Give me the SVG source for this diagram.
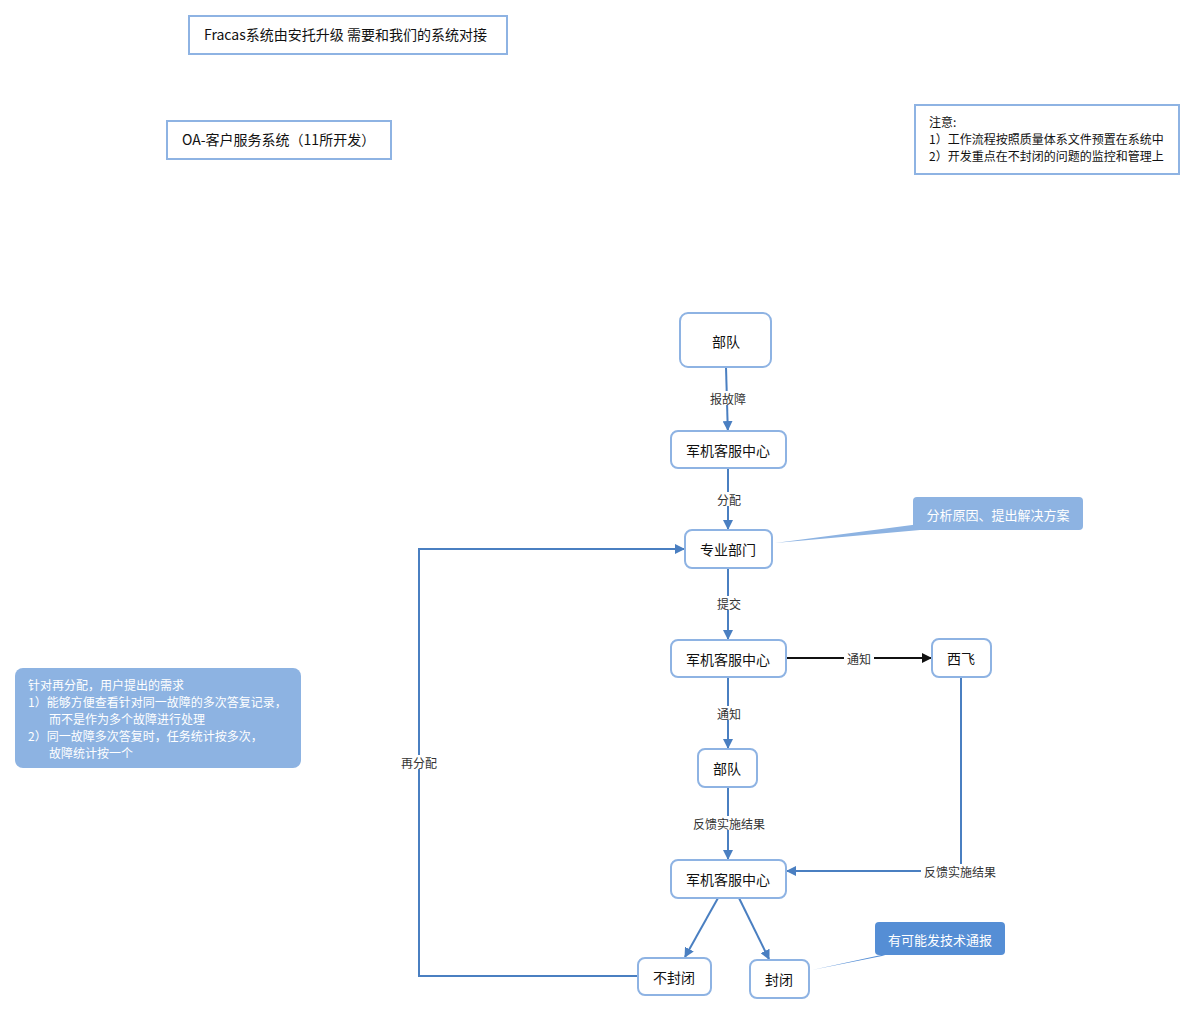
<svg xmlns="http://www.w3.org/2000/svg" width="1196" height="1015" viewBox="0 0 1196 1015">
<defs>
<style>
.box{fill:#fff;stroke:#8eb3e3;stroke-width:2}
.node{fill:#fff;stroke:#8eb3e3;stroke-width:2}
.t{font-family:"Noto Sans CJK SC","Noto Sans",sans-serif;font-size:14px;fill:#111}
.tc{font-family:"Noto Sans CJK SC","Noto Sans",sans-serif;font-size:14px;fill:#111;text-anchor:middle;dominant-baseline:central}
.n{font-family:"Noto Sans CJK SC","Noto Sans",sans-serif;font-size:12px;fill:#111}
.w{font-family:"Noto Sans CJK SC","Noto Sans",sans-serif;font-size:12px;fill:#fff}
.wc{font-family:"Noto Sans CJK SC","Noto Sans",sans-serif;font-size:13px;fill:#fff;text-anchor:middle;dominant-baseline:central}
.lbl{font-family:"Noto Sans CJK SC","Noto Sans",sans-serif;font-size:12px;fill:#333;text-anchor:middle;dominant-baseline:central}
.lb{fill:#fff}
.c{fill:none;stroke:#4a7fc1;stroke-width:2}
.ck{fill:none;stroke:#111;stroke-width:2}
</style>
<marker id="ab" viewBox="0 0 10 10" refX="9" refY="5" markerWidth="10" markerHeight="10" markerUnits="userSpaceOnUse" orient="auto"><path d="M0,0 L10,5 L0,10 z" fill="#4a7fc1"/></marker>
<marker id="ak" viewBox="0 0 10 10" refX="9" refY="5" markerWidth="10" markerHeight="10" markerUnits="userSpaceOnUse" orient="auto"><path d="M0,0 L10,5 L0,10 z" fill="#111"/></marker>
</defs>
<rect width="1196" height="1015" fill="#fff"/>

<g id="title">
<rect class="box" x="189" y="16" width="318" height="38"/>
<text class="t" x="204" y="40">Fracas系统由安托升级 需要和我们的系统对接</text>
</g>
<g id="oa">
<rect class="box" x="167" y="121" width="224" height="38"/>
<text class="t" x="182" y="145">OA-客户服务系统（11所开发）</text>
</g>
<g id="note">
<rect class="box" x="915" y="105" width="264" height="69"/>
<text class="n" x="929" y="127">注意:</text>
<text class="n" x="929" y="144">1）工作流程按照质量体系文件预置在系统中</text>
<text class="n" x="929" y="161">2）开发重点在不封闭的问题的监控和管理上</text>
</g>
<g id="leftnote">
<rect x="15" y="668" width="286" height="100" rx="8" fill="#8db3e2"/>
<text class="w" x="28" y="690">针对再分配，用户提出的需求</text>
<text class="w" x="28" y="707">1）能够方便查看针对同一故障的多次答复记录，</text>
<text class="w" x="49" y="724">而不是作为多个故障进行处理</text>
<text class="w" x="28" y="741">2）同一故障多次答复时，任务统计按多次，</text>
<text class="w" x="49" y="758">故障统计按一个</text>
</g>

<g id="connectors">
<line class="c" x1="726" y1="367" x2="727.8" y2="430" marker-end="url(#ab)"/>
<rect class="lb" x="706" y="391" width="44" height="14"/>
<text class="lbl" x="728" y="398">报故障</text>

<line class="c" x1="728" y1="468" x2="728" y2="529" marker-end="url(#ab)"/>
<rect class="lb" x="714" y="492" width="30" height="14"/>
<text class="lbl" x="729" y="499">分配</text>

<line class="c" x1="728" y1="568" x2="728" y2="639" marker-end="url(#ab)"/>
<rect class="lb" x="714" y="596" width="30" height="14"/>
<text class="lbl" x="729" y="603">提交</text>

<line class="ck" x1="786" y1="658" x2="931" y2="658" marker-end="url(#ak)"/>
<rect class="lb" x="844" y="651" width="30" height="14"/>
<text class="lbl" x="859" y="658">通知</text>

<line class="c" x1="728" y1="677" x2="728" y2="748" marker-end="url(#ab)"/>
<rect class="lb" x="714" y="706" width="30" height="14"/>
<text class="lbl" x="729" y="713">通知</text>

<line class="c" x1="728" y1="787" x2="728" y2="859" marker-end="url(#ab)"/>
<rect class="lb" x="691" y="816" width="76" height="14"/>
<text class="lbl" x="729" y="823">反馈实施结果</text>

<polyline class="c" points="961,677 961,871 787,871" marker-end="url(#ab)"/>
<rect class="lb" x="921" y="864" width="78" height="14"/>
<text class="lbl" x="960" y="871">反馈实施结果</text>

<line class="c" x1="718" y1="898" x2="685" y2="957" marker-end="url(#ab)"/>
<line class="c" x1="739" y1="898" x2="769" y2="959" marker-end="url(#ab)"/>

<polyline class="c" points="638,976 419,976 419,549 684,549" marker-end="url(#ab)"/>
<rect class="lb" x="399" y="755" width="40" height="14"/>
<text class="lbl" x="419" y="762">再分配</text>
</g>

<g id="n1"><rect class="node" x="680" y="313" width="91" height="54" rx="8"/><text class="tc" x="726" y="341">部队</text></g>
<g id="n2"><rect class="node" x="671" y="431" width="115" height="37" rx="7"/><text class="tc" x="728" y="450">军机客服中心</text></g>
<g id="n3"><rect class="node" x="685" y="530" width="87" height="38" rx="7"/><text class="tc" x="728" y="549">专业部门</text></g>
<g id="n4"><rect class="node" x="671" y="640" width="115" height="37" rx="7"/><text class="tc" x="728" y="659">军机客服中心</text></g>
<g id="n5"><rect class="node" x="932" y="639" width="59" height="38" rx="7"/><text class="tc" x="961" y="658">西飞</text></g>
<g id="n6"><rect class="node" x="698" y="749" width="59" height="38" rx="7"/><text class="tc" x="727" y="768">部队</text></g>
<g id="n7"><rect class="node" x="671" y="860" width="115" height="38" rx="7"/><text class="tc" x="728" y="879">军机客服中心</text></g>
<g id="n8"><rect class="node" x="638" y="958" width="73" height="37" rx="7"/><text class="tc" x="674" y="977">不封闭</text></g>
<g id="n9"><rect class="node" x="750" y="960" width="59" height="38" rx="7"/><text class="tc" x="779" y="979">封闭</text></g>

<g id="callout1">
<path d="M775,543 L935,522 L920,530 Z" fill="#8db3e2"/>
<rect x="913" y="497" width="170" height="33" rx="4" fill="#8db3e2"/>
<text class="wc" x="998" y="514">分析原因、提出解决方案</text>
</g>
<g id="callout2">
<path d="M812,970 L895,952 L882,956 Z" fill="#558ed5"/>
<rect x="875" y="922" width="130" height="33" rx="4" fill="#558ed5"/>
<text class="wc" x="940" y="939">有可能发技术通报</text>
</g>
</svg>
